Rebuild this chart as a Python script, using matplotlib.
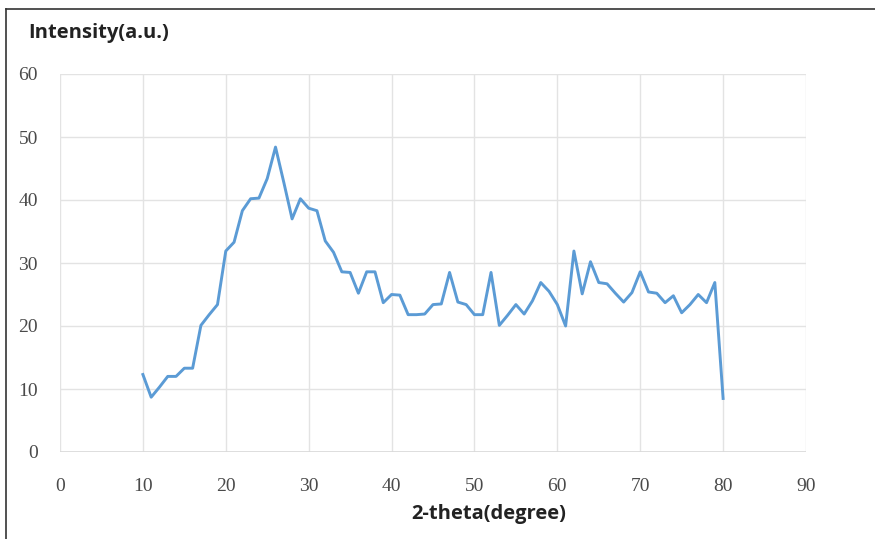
import matplotlib.pyplot as plt
from matplotlib.lines import Line2D

# 2-theta (degree) and intensity
two_theta = list(range(10, 81))
intensity = [12.3, 8.7, 10.3, 12.0, 12.0, 13.3, 13.3, 20.1, 21.8, 23.4,
             31.9, 33.3, 38.3, 40.2, 40.3, 43.4, 48.4, 42.8, 37.0, 40.2,
             38.7, 38.3, 33.5, 31.7, 28.6, 28.5, 25.2, 28.6, 28.6, 23.7,
             25.0, 24.9, 21.8, 21.8, 21.9, 23.4, 23.5, 28.5, 23.8, 23.4,
             21.8, 21.8, 28.5, 20.1, 21.7, 23.4, 21.9, 24.0, 26.9, 25.5,
             23.4, 20.0, 31.9, 25.1, 30.2, 26.9, 26.7, 25.2, 23.8, 25.3,
             28.6, 25.4, 25.2, 23.7, 24.8, 22.1, 23.4, 25.0, 23.7, 26.9,
             8.5]

xticks = list(range(0, 91, 10))
yticks = list(range(0, 61, 10))

W, H = 875, 539
fig = plt.figure(figsize=(W / 100, H / 100), dpi=100)
ax = fig.add_axes([60 / W, 1 - 452 / H, (806 - 60) / W, (452 - 74) / H])

ax.plot(two_theta, intensity, color='#5b9bd5', lw=2.1, solid_joinstyle='round')

ax.set_xlim(0, 90)
ax.set_ylim(0, 60)
ax.set_xticks(xticks)
ax.set_yticks(yticks)
ax.grid(True, color='#e3e3e3', lw=1.0)
ax.set_axisbelow(True)
for s in ax.spines.values():
    s.set_visible(False)
ax.axhline(0, color='#d9d9d9', lw=1.2, zorder=1)

ax.tick_params(length=0, labelsize=14, labelcolor='#4a4a4a')
ax.tick_params(axis='x', pad=19)
ax.tick_params(axis='y', pad=16)
for lab in ax.get_xticklabels() + ax.get_yticklabels():
    lab.set_family(['Liberation Serif', 'DejaVu Serif'])

fig.text(28 / W, 1 - 33 / H, 'Intensity(a.u.)', ha='left', va='center',
         fontsize=14.5, fontweight='bold', family=['Open Sans', 'DejaVu Sans'],
         color='#222222')
fig.text(489 / W, 1 - 514 / H, '2-theta(degree)', ha='center', va='center',
         fontsize=14.5, fontweight='bold', family=['Open Sans', 'DejaVu Sans'],
         color='#222222')

# frame lines at top and left of the picture
fig.add_artist(Line2D([6 / W, 1], [1 - 9 / H, 1 - 9 / H], color='#333333', lw=1.2,
                      transform=fig.transFigure))
fig.add_artist(Line2D([6 / W, 6 / W], [0, 1 - 9 / H], color='#333333', lw=1.2,
                      transform=fig.transFigure))

fig.savefig('out.png', dpi=100)
